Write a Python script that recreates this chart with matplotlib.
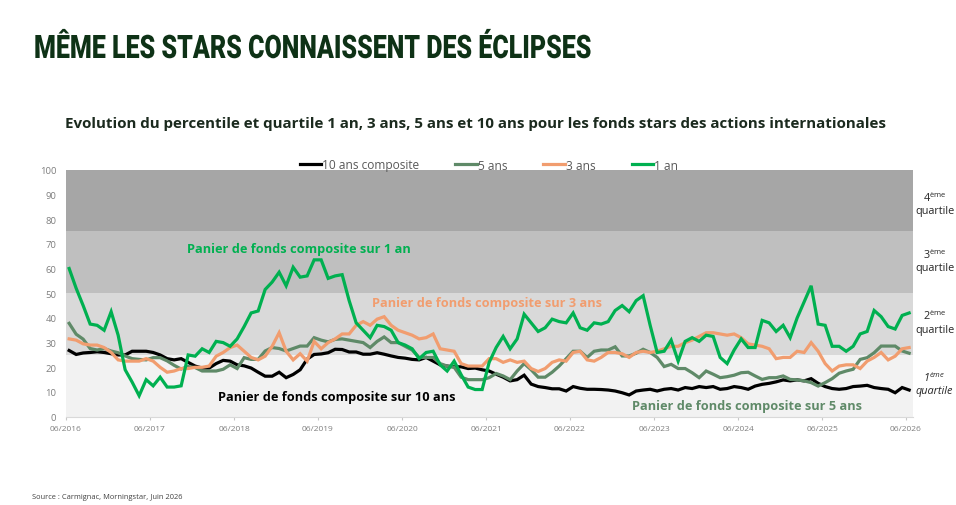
import numpy as np
import matplotlib
matplotlib.use("Agg")
import matplotlib.pyplot as plt
from matplotlib.lines import Line2D
from matplotlib.patheffects import AbstractPathEffect
from matplotlib.transforms import Affine2D

# ---------------- data ----------------
tick_labels = ["06/2016", "06/2017", "06/2018", "06/2019", "06/2020", "06/2021",
               "06/2022", "06/2023", "06/2024", "06/2025", "06/2026"]
series_names = ["10 ans composite", "5 ans", "3 ans", "1 an"]

ten_y = [26.8, 25.2, 25.8, 26, 26.3, 26, 25.5, 25, 25, 26.5,
         26.5, 26.5, 26, 25, 23.5, 23, 23.5, 22, 20.5, 19.7,
         19.7, 21.5, 22.8, 22.5, 21, 20.6, 19.7, 18, 16.4, 16.4,
         18, 15.8, 17.1, 19, 23.3, 25.2, 25.4, 25.9, 27.3, 27.2,
         26.2, 26.2, 25.3, 25.3, 25.9, 25.3, 24.6, 24, 23.7, 23.2,
         23, 24, 22.5, 21, 20.5, 20.2, 20.2, 19.5, 19.7, 19,
         18.5, 17.2, 16, 14.5, 15, 16.8, 13.2, 12.2, 11.8, 11.3,
         11.3, 10.4, 12.2, 11.5, 11.1, 11.1, 11, 10.8, 10.4, 9.7,
         8.8, 10.4, 10.8, 11.1, 10.4, 11.1, 11.4, 10.8, 11.8, 11.4,
         12.2, 11.8, 12.2, 11.1, 11.4, 12.2, 11.8, 11.1, 12.4, 13.1,
         13.5, 14.1, 14.9, 14.5, 14.9, 14.5, 15.4, 13.5, 12.2, 11.4,
         11.1, 11.4, 12.2, 12.4, 12.7, 11.8, 11.4, 11.1, 9.7, 11.8, 10.8]

five_y = [37.8, 33.4, 31.4, 27.6, 27, 27.6, 26.6, 25.9, 24.6, 23.5,
          23.2, 23, 23.9, 23.9, 22.6, 20.8, 19.3, 20.3, 19.9, 18.5,
          18.5, 18.5, 19.2, 21, 19.5, 23.9, 23.2, 23.2, 26.6, 28,
          27.6, 26.6, 27.6, 28.6, 28.6, 32, 31, 30.3, 31.3, 31.5,
          31, 30.5, 30, 28, 30.5, 32.3, 30, 30, 28.5, 27,
          24, 24, 24, 21.5, 20.5, 20, 16, 15, 15, 15,
          15.8, 17.5, 16.5, 15, 18.5, 21.5, 19, 16, 16, 18,
          20.5, 23.5, 26.5, 26.5, 24, 26.5, 27, 27, 28.3, 24.6,
          24.6, 25.7, 27.3, 26, 24, 20.3, 21.2, 19.5, 19.5, 17.8,
          15.8, 18.5, 17.2, 15.8, 16.2, 16.8, 17.8, 18, 16.5, 15.1,
          15.8, 15.8, 16.5, 15.1, 14.9, 14.5, 13.8, 12.4, 13.8, 15.4,
          17.6, 18.5, 19.2, 23.2, 23.9, 25.9, 28.6, 28.6, 28.6, 26.6, 25.7]

three_y = [31.5, 31, 29.5, 29, 29, 28, 26, 23, 22.5, 22.5,
           22.5, 23.5, 22.5, 20, 18, 18.5, 19.5, 19.5, 20, 20,
           20.5, 24.5, 26, 28, 29, 26.5, 24, 23, 24.5, 28.5,
           34, 26.5, 23, 25.5, 22.5, 30.5, 27.5, 30, 31.5, 33.5,
           33.5, 37, 38.5, 37, 39.5, 40.5, 37, 35, 34, 33,
           31.5, 32, 33.5, 27.5, 27, 26.5, 21.5, 20.5, 20.5, 20.5,
           23.5, 23.5, 22, 23, 22, 22.5, 19.5, 18.3, 19.5, 22,
           23, 22.5, 26, 26.5, 23, 22.5, 24, 26, 26, 25.5,
           24, 26, 26.5, 26, 26.5, 27.5, 28.5, 28.5, 30, 31,
           32.5, 34, 34, 33.5, 33, 33.5, 32, 29.5, 29, 28.5,
           27.5, 23.5, 24, 24, 26.5, 26, 30, 26.5, 21.5, 18.5,
           20.5, 21, 21, 19.5, 22.5, 24, 26, 23, 24.5, 27.5, 28]

one_y = [60, 52, 45, 37.5, 37, 35, 42.5, 33, 19, 14,
         8.5, 15, 12.5, 16, 12, 12, 12.5, 25, 24.5, 27.5,
         26, 30.5, 30, 28.5, 31.5, 36.5, 42, 42.8, 51.5, 54.5,
         58.5, 53, 60.5, 56.5, 57, 63.5, 63.5, 56, 57, 57.5,
         47, 38, 35, 32, 37, 36.5, 35, 30, 29, 27.5,
         23.5, 26, 26.5, 21, 18.5, 22.5, 17, 12, 11, 11,
         22, 28, 32.5, 27.5, 31.5, 41.5, 38, 34.5, 36, 39.5,
         38.5, 38, 42, 36, 35, 38, 37.5, 38.5, 43, 45,
         42.5, 47, 49, 37, 26, 26.5, 31, 22.5, 30.5, 32,
         30.5, 33, 32.5, 24, 21.5, 27, 31.5, 28, 28, 39,
         38, 34.5, 37, 32, 40, 46.5, 53, 37.5, 37, 28.5,
         28.5, 26.5, 28.5, 33.5, 34.5, 43, 40.5, 36.5, 35.5, 41, 42]

quartile_edges = [0, 25, 50, 75, 100]
quartile_nums = ["1", "2", "3", "4"]
annotation_texts = ["Panier de fonds composite sur 10 ans",
                    "Panier de fonds composite sur 5 ans",
                    "Panier de fonds composite sur 3 ans",
                    "Panier de fonds composite sur 1 an"]

# ---------------- style ----------------
W, H = 956, 506
plt.rcParams['font.family'] = ['Open Sans', 'DejaVu Sans']
plt.rcParams['mathtext.fontset'] = 'custom'
plt.rcParams['mathtext.rm'] = 'Open Sans'
plt.rcParams['mathtext.it'] = 'Open Sans:italic'

colors = ["#000000", "#5f8a68", "#f19d6f", "#00b050"]
band_colors = ["#f2f2f2", "#d9d9d9", "#bfbfbf", "#a6a6a6"]


class HStretch(AbstractPathEffect):
    """Horizontal scaling of a text's glyphs around a fixed x (pixels)."""
    def __init__(self, sx, x0):
        super().__init__()
        self.sx = sx
        self.x0 = x0

    def draw_path(self, renderer, gc, tpath, affine, rgbFace=None):
        aff = affine + Affine2D().translate(-self.x0, 0).scale(self.sx, 1).translate(self.x0, 0)
        renderer.draw_path(gc, tpath, aff, rgbFace)


fig = plt.figure(figsize=(W / 100, H / 100), dpi=100)
fig.patch.set_facecolor("white")

def fx(px):
    return px / W

def fy(py):
    return 1 - py / H

ax_left, ax_right, ax_top, ax_bottom = 66, 912.7, 170.7, 417.7
ax = fig.add_axes([fx(ax_left), fy(ax_bottom), fx(ax_right - ax_left), (ax_bottom - ax_top) / H])

px_per_month = 7.0
n = len(one_y)
x = np.arange(n) + 0.45

for i in range(4):
    ax.axhspan(quartile_edges[i], quartile_edges[i + 1], color=band_colors[i], lw=0, zorder=0)

series = [ten_y, five_y, three_y, one_y]
for s, c, name in zip(series, colors, series_names):
    ax.plot(x, s, color=c, lw=2.3, solid_joinstyle='miter', label=name, zorder=3)

ax.set_xlim(0, (ax_right - ax_left) / px_per_month)
ax.set_ylim(0, 100)
ax.set_yticks(np.arange(0, 101, 10))
ax.tick_params(axis='y', length=0, pad=7, labelsize=6.8, labelcolor="#7f7f7f")
ax.set_xticks(np.arange(len(tick_labels)) * 12)
ax.set_xticklabels(tick_labels)
ax.tick_params(axis='x', length=2.5, width=0.8, color="#c8c8c8", pad=3.5,
               labelsize=6, labelcolor="#7f7f7f")
for sp in ["top", "right", "left"]:
    ax.spines[sp].set_visible(False)
ax.spines["bottom"].set_color("#d9d9d9")
ax.spines["bottom"].set_linewidth(0.8)

# legend
handles = [Line2D([0], [0], color=c, lw=2.3) for c in colors]
leg = fig.legend(handles, series_names, loc='center', bbox_to_anchor=(fx(489), fy(166)),
                 ncol=4, frameon=False, fontsize=8.6, handlelength=1.8, handletextpad=0.1,
                 columnspacing=3.0, borderaxespad=0, borderpad=0)
for t in leg.get_texts():
    t.set_color("#595959")

# title & subtitle
title_x = 34
cap_px = 23.0
title = fig.text(fx(title_x), fy(59), "MÊME LES STARS CONNAISSENT DES ÉCLIPSES",
                 family=['Roboto', 'DejaVu Sans'], weight='black',
                 fontsize=cap_px / 0.711 * 0.72, color="#0e3216", va='baseline', ha='left')
sub = fig.text(fx(65), fy(128),
               "Evolution du percentile et quartile 1 an, 3 ans, 5 ans et 10 ans pour les fonds stars des actions internationales",
               weight='bold', fontsize=11, color="#1b2a1e", va='baseline', ha='left')

# annotations (left x, center y in pixels, right x for width)
ann_pos = [(217.5, 397, 456), (631.7, 407, 862), (371.7, 304, 602.7), (186.7, 249, 411)]
ann_texts = []
for txt, c, (lx, cy, rx) in zip(annotation_texts, colors, ann_pos):
    t = fig.text(fx(lx), fy(cy), txt, color=c, weight='bold', fontsize=9.5,
                 ha='left', va='center')
    ann_texts.append((t, rx - lx))

# quartile labels on the right
qy = [(377.7, 391.7), (315.7, 331), (255, 269), (198, 211.7)]
for i, (y1, y2) in enumerate(qy):
    style = 'italic' if i == 0 else 'normal'
    sup = r'$^{\mathit{ème}}$' if i == 0 else r'$^{\mathrm{ème}}$'
    fig.text(fx(934.5), fy(y1), quartile_nums[i] + sup, ha='center', va='center',
             fontsize=7.8, color="#262626", style=style)
    fig.text(fx(934.5), fy(y2), "quartile", ha='center', va='center',
             fontsize=7.8, color="#262626", style=style)

# source
src = fig.text(fx(32), fy(497.5), "Source : Carmignac, Morningstar, Juin 2026",
               fontsize=5.2, color="#404040", ha='left', va='center')

# fit widths of key texts
fig.canvas.draw()
r = fig.canvas.get_renderer()
def fit(t, target):
    bb = t.get_window_extent(r)
    t.set_fontsize(t.get_fontsize() * target / bb.width)
fit(sub, 888 - 65)
for t, wpx in ann_texts:
    fit(t, wpx)
fit(src, 183 - 32)

# condensed title: keep its height, squeeze glyphs to the reference width
tb = title.get_window_extent(r)
sx = (592 - title_x) / tb.width
title.set_path_effects([HStretch(sx, title_x)])

fig.savefig("out.png", dpi=100, facecolor="white")
